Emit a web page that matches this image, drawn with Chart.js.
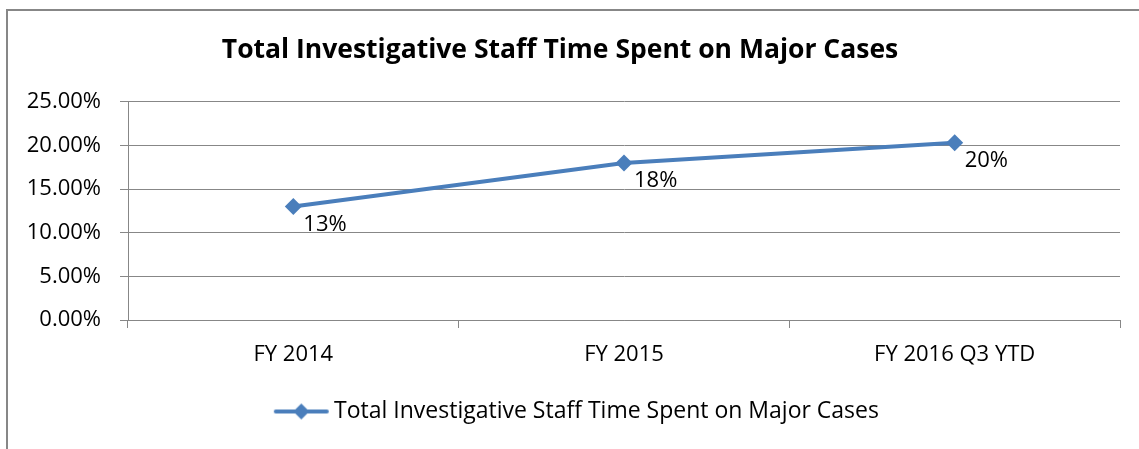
<!doctype html>
<html>

<head>
	<title>Total Investigative Staff Time Spent on Major Cases</title>
	<script src="https://cdn.jsdelivr.net/npm/chart.js@4"></script>
	<style>
		html, body { margin: 0; padding: 0; background: #fff; }
		#canvas-holder { position: relative; width: 1139px; height: 449px; }
	</style>
</head>

<body>
	<div id="canvas-holder">
		<canvas id="chart-area"></canvas>
	</div>

	<script>
		const seriesName = 'Total Investigative Staff Time Spent on Major Cases';
		const categories = ['FY 2014', 'FY 2015', 'FY 2016 Q3 YTD'];
		const shares = [0.13, 0.18, 0.203];

		const FONT = '"Open Sans", "Noto Sans", sans-serif';
		const BLUE = '#4a7ebb';
		const GRAY = '#878787';

		// legend sample: line with a diamond, sitting at the right of a wider
		// transparent image so the text hugs it like in the original
		function legendMarker() {
			const c = document.createElement('canvas');
			c.width = 100;
			c.height = 18;
			const g = c.getContext('2d');
			g.strokeStyle = BLUE;
			g.lineWidth = 4;
			g.lineCap = 'round';
			g.beginPath();
			g.moveTo(44, 9);
			g.lineTo(95, 9);
			g.stroke();
			g.fillStyle = BLUE;
			g.beginPath();
			g.moveTo(69.5, 1);
			g.lineTo(77.5, 9);
			g.lineTo(69.5, 17);
			g.lineTo(61.5, 9);
			g.closePath();
			g.fill();
			return c;
		}

		const frame = {
			id: 'frame',
			beforeDraw(chart) {
				const ctx = chart.ctx;
				ctx.save();
				ctx.fillStyle = '#fff';
				ctx.fillRect(0, 0, chart.width, chart.height);
				ctx.strokeStyle = GRAY;
				ctx.lineWidth = 2;
				ctx.strokeRect(7, 10, chart.width + 50, chart.height + 50);
				ctx.restore();
			}
		};

		const valueLabels = {
			id: 'valueLabels',
			afterDatasetsDraw(chart) {
				const ctx = chart.ctx;
				const meta = chart.getDatasetMeta(0);
				ctx.save();
				ctx.font = '22px ' + FONT;
				ctx.fillStyle = '#000';
				ctx.textAlign = 'left';
				ctx.textBaseline = 'middle';
				meta.data.forEach((pt, i) => {
					const v = chart.data.datasets[0].data[i];
					ctx.fillText(Math.round(v * 100) + '%', pt.x + 10, pt.y + 18);
				});
				ctx.restore();
			}
		};

		const ctx2d = document.getElementById('chart-area').getContext('2d');
		window.myChart = new Chart(ctx2d, {
			type: 'line',
			data: {
				labels: categories,
				datasets: [{
					label: seriesName,
					data: shares,
					borderColor: BLUE,
					backgroundColor: BLUE,
					borderWidth: 4,
					pointStyle: 'rectRot',
					pointRadius: 8.5,
					pointBackgroundColor: BLUE,
					pointBorderWidth: 0,
					tension: 0
				}]
			},
			options: {
				responsive: true,
				maintainAspectRatio: false,
				animation: false,
				layout: {
					padding: { left: 0, right: 19, top: 0, bottom: 16 }
				},
				scales: {
					x: {
						offset: true,
						grid: {
							offset: true,
							drawOnChartArea: false,
							drawTicks: true,
							tickLength: 8,
							color: GRAY
						},
						border: { color: GRAY, width: 1 },
						ticks: {
							color: '#000',
							padding: 14,
							font: { family: FONT, size: 22 }
						},
						afterFit(scale) {
							scale.height = 70;
						}
					},
					y: {
						min: 0,
						max: 0.25,
						grid: {
							color: GRAY,
							tickLength: 8
						},
						border: { color: GRAY, width: 1 },
						ticks: {
							stepSize: 0.05,
							color: '#000',
							padding: 19,
							font: { family: FONT, size: 22 },
							callback: (v) => (v * 100).toFixed(2) + '%'
						},
						afterFit(scale) {
							scale.width = 128;
						}
					}
				},
				plugins: {
					title: {
						display: true,
						text: seriesName,
						color: '#000',
						font: { family: FONT, size: 26.5, weight: 'bold' },
						padding: { top: 35, bottom: 35 }
					},
					legend: {
						display: true,
						position: 'bottom',
						labels: {
							color: '#000',
							font: { family: FONT, size: 23 },
							padding: 10,
							usePointStyle: true,
							pointStyleWidth: 81.5,
							generateLabels(chart) {
								return [{
									text: seriesName,
									pointStyle: legendMarker(),
									fillStyle: BLUE,
									strokeStyle: BLUE,
									lineWidth: 0,
									datasetIndex: 0,
									fontColor: '#000'
								}];
							}
						}
					},
					tooltip: { enabled: false }
				}
			},
			plugins: [frame, valueLabels]
		});
	</script>
</body>
</html>
